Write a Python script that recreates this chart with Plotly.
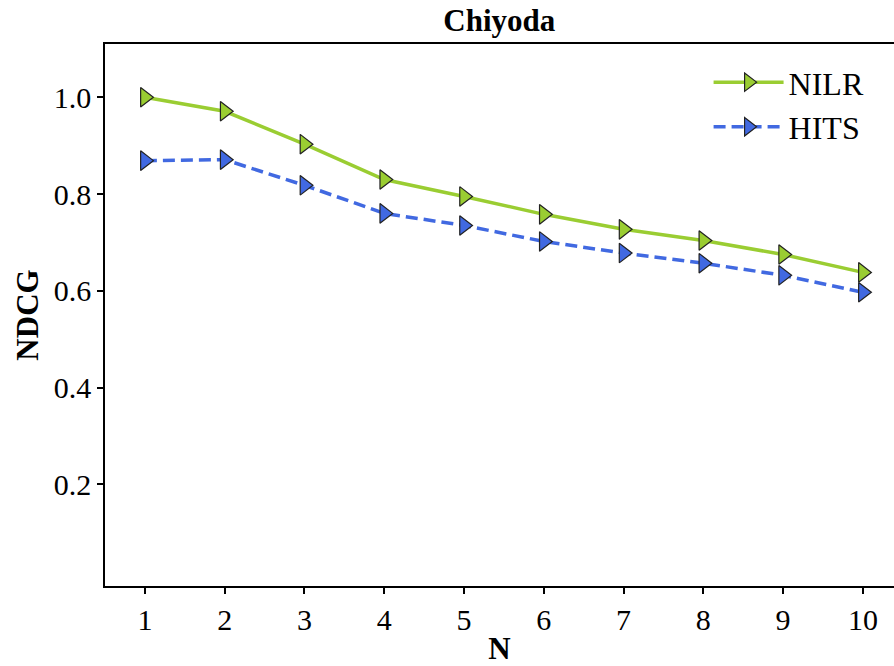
import plotly.graph_objects as go

N = [1, 2, 3, 4, 5, 6, 7, 8, 9, 10]
nilr = [1.000, 0.971, 0.903, 0.830, 0.795, 0.758, 0.727, 0.704, 0.675, 0.638]
hits = [0.869, 0.871, 0.818, 0.760, 0.735, 0.702, 0.678, 0.657, 0.632, 0.597]
y_ticks = [0.2, 0.4, 0.6, 0.8, 1.0]
y_tick_text = ["0.2", "0.4", "0.6", "0.8", "1.0"]

FONT = "Liberation Serif"

fig = go.Figure()
fig.add_trace(go.Scatter(
    x=N, y=nilr, name="NILR", mode="lines+markers", legendgroup="a",
    line=dict(color="#9ACD32", width=3.5),
    marker=dict(symbol="triangle-right", size=17, color="#9ACD32",
                line=dict(color="#222222", width=1.2)),
))
fig.add_trace(go.Scatter(
    x=N, y=hits, name="HITS", mode="lines+markers", legendgroup="b",
    line=dict(color="#4169E1", width=3.5, dash="12px,6px"),
    marker=dict(symbol="triangle-right", size=17, color="#4169E1",
                line=dict(color="#222222", width=1.2)),
))

fig.update_layout(
    width=894, height=666,
    margin=dict(l=105, r=0, t=44, b=80),
    paper_bgcolor="white", plot_bgcolor="white",
    font=dict(family=FONT, size=30, color="black"),
    title=dict(text="Chiyoda", x=0.5585, xanchor="center", y=0.97, yanchor="middle",
               font=dict(family=FONT, size=31, weight="bold")),
    showlegend=True,
    legend=dict(x=0.765, y=0.98, xanchor="left", yanchor="top",
                bgcolor="rgba(0,0,0,0)", font=dict(family=FONT, size=32),
                tracegroupgap=0, itemwidth=70),
)
fig.update_xaxes(
    range=[0.5, 10.39], tickvals=N, ticktext=[str(v) for v in N],
    showline=True, linecolor="black", linewidth=1.5, mirror=True,
    ticks="outside", ticklen=6, tickwidth=1.5, tickcolor="black",
    showgrid=False, zeroline=False,
    title=dict(text="N", font=dict(family=FONT, size=31, weight="bold"), standoff=4),
)
fig.update_yaxes(
    range=[-0.01, 1.11], tickvals=y_ticks, ticktext=y_tick_text,
    showline=True, linecolor="black", linewidth=1.5, mirror=False,
    ticks="outside", ticklen=6, tickwidth=1.5, tickcolor="black",
    showgrid=False, zeroline=False,
    title=dict(text="NDCG", font=dict(family=FONT, size=31, weight="bold"), standoff=6),
)

fig.write_html("out.html")
